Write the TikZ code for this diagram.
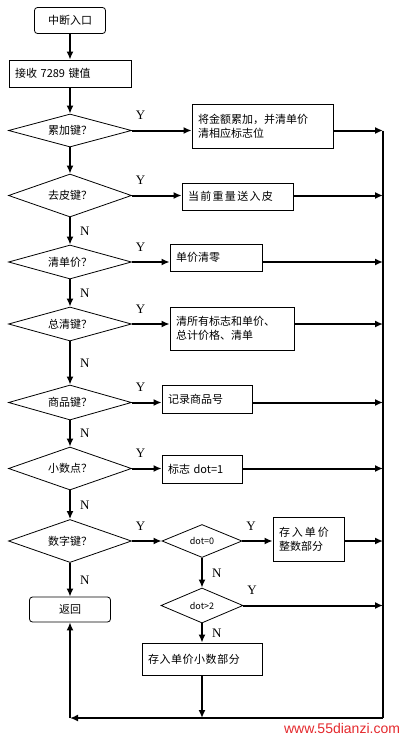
\documentclass[tikz,border=0pt]{standalone}
\usepackage{fontspec}
\setmainfont{Noto Sans CJK SC}
\newfontfamily\ynfont{Liberation Serif}
\newfontfamily\webfont{Liberation Sans}
\usetikzlibrary{shapes.geometric}
\usetikzlibrary{arrows.meta}
\usetikzlibrary{calc}
\definecolor{webred}{RGB}{228,40,44}

\begin{document}
\begin{tikzpicture}[x=1pt,y=-1pt,>/.tip={Latex[length=8pt,width=7pt]},
	every node/.append style={font=\fontsize{11}{14}\selectfont},
	flow/.style={line width=2pt},
	term/.style={draw,line width=0.8pt,rounded corners=3pt,minimum height=26pt},
	box/.style={draw,line width=0.8pt,inner xsep=6pt,inner ysep=2pt,align=left},
	test/.style={draw,shape=diamond,aspect=4,inner sep=0pt,line width=0.8pt,minimum width=123pt,minimum height=33pt},
	yes/.style={pos=0,anchor=south west,inner sep=1pt,xshift=2pt,yshift=9pt,font=\ynfont\fontsize{13}{13}\selectfont},
	no/.style={anchor=west,inner sep=1pt,xshift=8pt,font=\ynfont\fontsize{13}{13}\selectfont}]
	\useasboundingbox (0,0) rectangle (411,739);

	% main column
	\draw (70,20.5) node (entry) [term,minimum width=71pt] {中断入口};
	\draw (70,73.5) node (recv) [box,text width=110pt,minimum height=27pt] {接收 7289 键值};
	\draw (70,130.5) node (D1) [test] {累加键？};
	\draw (70,195.5) node (D2) [test,minimum height=43pt] {去皮键？};
	\draw (70,262) node (D3) [test,minimum height=34pt] {清单价？};
	\draw (70,324) node (D4) [test,minimum height=34pt] {总清键？};
	\draw (70,402.5) node (D5) [test,minimum height=35pt] {商品键？};
	\draw (70,468.5) node (D6) [test,minimum height=43pt] {小数点？};
	\draw (70,541) node (D7) [test,minimum height=43pt] {数字键？};
	\draw (70,609.5) node (ret) [term,minimum width=81pt,minimum height=25pt] {返回};

	% action boxes
	\draw (262.5,126) node (B1) [box,text width=129pt,minimum height=44pt] {将金额累加，并清单价\\清相应标志位};
	\draw (237.5,196.5) node (B2) [box,text width=99pt,minimum height=27pt] {\addfontfeature{LetterSpace=12}当前重量送入皮};
	\draw (216,257.5) node (B3) [box,text width=80pt,minimum height=27pt] {单价清零};
	\draw (232,328.5) node (B4) [box,text width=112pt,minimum height=43pt] {清所有标志和单价、\\总计价格、清单};
	\draw (207,399) node (B5) [box,text width=78pt,minimum height=28pt] {记录商品号};
	\draw (202,469) node (B6) [box,text width=68pt,minimum height=28pt] {标志 dot=1};

	% digit branch
	\draw (202,541) node (dot0) [test,minimum width=80pt,minimum height=33pt,font=\fontsize{9}{9}\selectfont] {dot=0};
	\draw (202,605.5) node (dot2) [test,minimum width=82pt,minimum height=35pt,font=\fontsize{9}{9}\selectfont] {dot>2};
	\draw (308.5,539) node (B7) [box,text width=59pt,minimum height=44pt] {{\addfontfeature{LetterSpace=18}存入单价}\\整数部分};
	\draw (202,659) node (B8) [box,text width=108pt,minimum height=32pt] {\addfontfeature{LetterSpace=5}存入单价小数部分};

	% return bus
	\coordinate (busTop) at (383,130.5);
	\coordinate (busBot) at (383,718);
	\coordinate (back) at (70,718);

	\draw[->,flow] (entry) edge (recv);
	\draw[->,flow] (recv) edge (D1);
	\draw[->,flow] (D1) edge (D2);
	\draw[->,flow] (D2) edge node [no] {N} (D3);
	\draw[->,flow] (D3) edge node [no] {N} (D4);
	\draw[->,flow] (D4) edge node [no] {N} (D5);
	\draw[->,flow] (D5) edge node [no] {N} (D6);
	\draw[->,flow] (D6) edge node [no] {N} (D7);
	\draw[->,flow] (D7) edge node [no] {N} (ret);

	\draw[->,flow] (D1.east) -- node [yes] {Y} (D1.east -| B1.west);
	\draw[->,flow] (D2.east) -- node [yes] {Y} (D2.east -| B2.west);
	\draw[->,flow] (D3.east) -- node [yes] {Y} (D3.east -| B3.west);
	\draw[->,flow] (D4.east) -- node [yes] {Y} (D4.east -| B4.west);
	\draw[->,flow] (D5.east) -- node [yes] {Y} (D5.east -| B5.west);
	\draw[->,flow] (D6.east) -- node [yes] {Y} (D6.east -| B6.west);
	\draw[->,flow] (D7.east) -- node [yes] {Y} (dot0.west);
	\draw[->,flow] (dot0.east) -- node [yes] {Y} (dot0.east -| B7.west);
	\draw[->,flow] (dot0) edge node [no] {N} (dot2);
	\draw[->,flow] (dot2) edge node [no] {N} (B8);

	\draw[->,flow] (B1.east |- D1.east) -- (D1.east -| busTop);
	\draw[->,flow] (B2.east |- D2.east) -- (D2.east -| busTop);
	\draw[->,flow] (B3.east |- D3.east) -- (D3.east -| busTop);
	\draw[->,flow] (B4.east |- D4.east) -- (D4.east -| busTop);
	\draw[->,flow] (B5.east |- D5.east) -- (D5.east -| busTop);
	\draw[->,flow] (B6.east |- D6.east) -- (D6.east -| busTop);
	\draw[->,flow] (B7.east |- dot0.east) -- (dot0.east -| busTop);
	\draw[->,flow] (dot2.east) -- node [yes] {Y} (dot2.east -| busTop);
	\draw[->,flow] (B8) -- (B8 |- back);

	\draw[flow] (busTop) -- (busBot);
	\draw[->,flow] (busBot) -- (back);
	\draw[->,flow] (back) -- (ret);

	\draw (342,728) node (web) [text=webred,font=\webfont\fontsize{14}{14}\selectfont] {www.55dianzi.com};
\end{tikzpicture}
\end{document}
